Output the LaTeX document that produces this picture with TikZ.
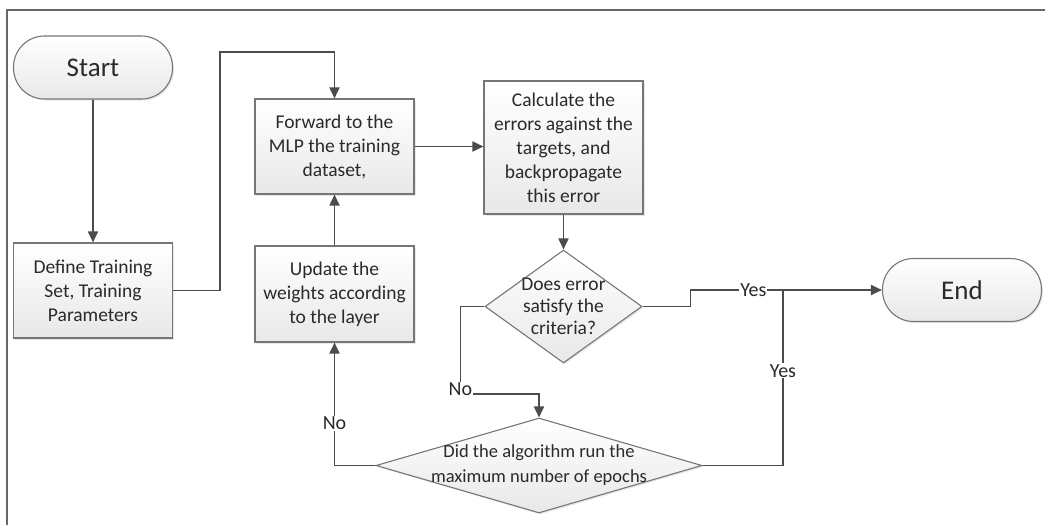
\documentclass[tikz,border=0pt]{standalone}
\usepackage{fontspec}
\setmainfont{Carlito}
\usetikzlibrary{arrows.meta,shapes.geometric,shadows}
\definecolor{linegray}{HTML}{4C4C4C}
\definecolor{boxgray}{HTML}{767676}
\definecolor{txtgray}{HTML}{2A2A2A}

\begin{document}
\begin{tikzpicture}[x=1pt,y=-1pt,
  every node/.style={text=txtgray},
  shapebase/.style={draw=boxgray,line width=1.1pt,top color=white,bottom color=black!9,
    drop shadow={opacity=0.18,shadow xshift=1.5pt,shadow yshift=-1.5pt}},
  terminal/.style={shapebase,rectangle,rounded corners=31pt,minimum width=159pt,minimum height=63pt,font=\fontsize{27}{30}\selectfont},
  process/.style={shapebase,rectangle,minimum width=159pt,align=center,font=\fontsize{19.5}{24}\selectfont},
  decision/.style={shapebase,diamond,inner sep=0pt},
  flow/.style={draw=linegray,line width=1.8pt,-{Triangle[length=11pt,width=10pt]}},
  link/.style={draw=linegray,line width=1.8pt},
  lbl/.style={fill=white,inner sep=1pt,font=\fontsize{20}{22}\selectfont}]
\useasboundingbox (0,0) rectangle (1045,525);
\draw[linegray!85,line width=1.2pt] (7,525) -- (7,10) -- (1045,10);

\node[terminal] (start) at (93,67.5) {Start};
\node[process,minimum height=95pt] (define) at (93,290.5) {Define Training\\Set, Training\\Parameters};
\node[process,minimum height=95pt] (forward) at (334.5,146.5) {Forward to the\\MLP the training\\dataset,};
\node[process,minimum height=96pt] (update) at (334.5,294) {Update the\\weights according\\to the layer};
\node[process,minimum height=133pt] (calc) at (563.5,147.5) {Calculate the\\errors against the\\targets, and\\backpropagate\\this error};
\node[decision,minimum width=157pt,minimum height=113pt,
  label={[align=center,font=\fontsize{19.5}{22}\selectfont]center:Does error\\satisfy the\\criteria?}] (err) at (563.5,306.5) {};
\node[decision,minimum width=326pt,minimum height=95pt,
  label={[align=center,font=\fontsize{18.5}{25}\selectfont]center:Did the algorithm run the\\maximum number of epochs}] (did) at (539,465.5) {};
\node[terminal] (finish) at (962,290) {End};

\coordinate (topbend) at (334.5,52);
\coordinate (nobend) at (539,394);
\coordinate (yesjoin) at (783,290);

\draw[flow] (start) -- (define);
\draw[flow] (define.east) -- ++(47,0) |- (topbend) -- (forward.north);
\draw[flow] (forward.east) -- (forward.east -| calc.west);
\draw[flow] (calc) -- (err);
\draw[flow] (err.east) -- ++(48,0) |- node[pos=0.664,lbl]{Yes} (finish.west);
\draw[flow] (err.west) -- ++(-24,0) |- node[pos=0.5,lbl,yshift=5pt]{No} (nobend) -- (did.north);
\draw[link] (did.east) -| node[pos=0.77,lbl]{Yes} (yesjoin);
\draw[flow] (did.west) -| node[pos=0.672,lbl]{No} (update.south);
\draw[flow] (update) -- (forward);
\end{tikzpicture}
\end{document}
